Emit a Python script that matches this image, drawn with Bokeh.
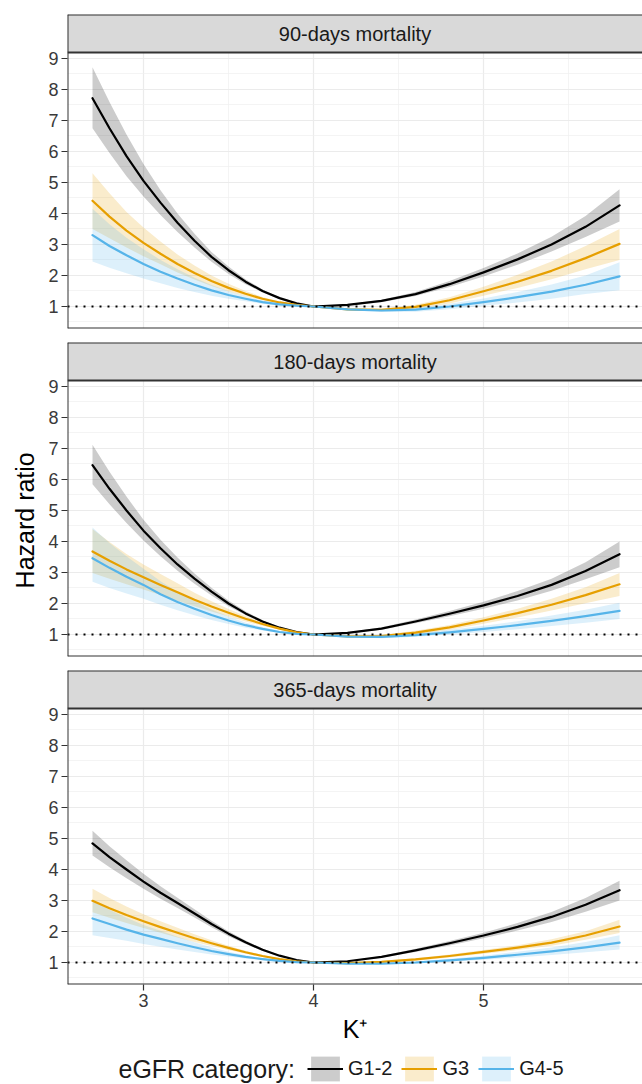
from bokeh.plotting import figure
from bokeh.layouts import column
from bokeh.models import (FixedTicker, Span, Label, Legend, LegendItem, BoxAnnotation,
                          ColumnDataSource, Range1d)
from bokeh.embed import file_html
from bokeh.resources import INLINE

# ---------------- data ----------------
K = [2.7, 2.8, 2.9, 3.0, 3.1, 3.2, 3.3, 3.4, 3.5, 3.6, 3.7, 3.8, 3.9, 4.0,
     4.2, 4.4, 4.6, 4.8, 5.0, 5.2, 5.4, 5.6, 5.8]

panel_titles = ["90-days mortality", "180-days mortality", "365-days mortality"]
groups = ["G1-2", "G3", "G4-5"]
line_colors = ["#000000", "#E69F00", "#56B4E9"]

# 90 days
hr90_g12 = [7.72, 6.75, 5.85, 5.05, 4.35, 3.70, 3.12, 2.60, 2.17, 1.80, 1.50, 1.27, 1.10, 1.00, 1.05, 1.18, 1.40, 1.72, 2.10, 2.52, 3.00, 3.57, 4.26]
lo90_g12 = [6.75, 5.95, 5.20, 4.55, 3.95, 3.40, 2.90, 2.44, 2.05, 1.72, 1.45, 1.24, 1.09, 1.00, 1.03, 1.14, 1.34, 1.63, 1.97, 2.35, 2.77, 3.24, 3.74]
hi90_g12 = [8.72, 7.60, 6.55, 5.60, 4.75, 4.00, 3.35, 2.76, 2.29, 1.88, 1.55, 1.30, 1.11, 1.00, 1.07, 1.22, 1.47, 1.82, 2.24, 2.71, 3.25, 3.92, 4.78]
hr90_g3 = [4.41, 3.90, 3.45, 3.05, 2.70, 2.37, 2.08, 1.82, 1.60, 1.41, 1.25, 1.13, 1.05, 1.00, 0.91, 0.89, 0.99, 1.20, 1.49, 1.80, 2.15, 2.56, 3.02]
lo90_g3 = [3.50, 3.20, 2.90, 2.62, 2.36, 2.10, 1.87, 1.66, 1.48, 1.33, 1.20, 1.10, 1.04, 1.00, 0.89, 0.85, 0.93, 1.10, 1.35, 1.60, 1.88, 2.20, 2.50]
hi90_g3 = [5.30, 4.65, 4.05, 3.55, 3.10, 2.68, 2.32, 2.00, 1.73, 1.50, 1.31, 1.16, 1.06, 1.00, 0.93, 0.93, 1.06, 1.30, 1.64, 2.02, 2.45, 2.95, 3.50]
hr90_g45 = [3.30, 2.95, 2.65, 2.37, 2.12, 1.90, 1.70, 1.52, 1.37, 1.25, 1.14, 1.07, 1.03, 1.00, 0.91, 0.87, 0.90, 1.00, 1.14, 1.30, 1.48, 1.70, 1.97]
lo90_g45 = [2.45, 2.25, 2.07, 1.90, 1.75, 1.60, 1.47, 1.35, 1.25, 1.17, 1.09, 1.04, 1.01, 1.00, 0.88, 0.82, 0.83, 0.91, 1.02, 1.13, 1.25, 1.40, 1.52]
hi90_g45 = [4.15, 3.65, 3.22, 2.85, 2.50, 2.20, 1.93, 1.69, 1.49, 1.33, 1.19, 1.10, 1.05, 1.00, 0.94, 0.91, 0.96, 1.09, 1.26, 1.47, 1.71, 2.00, 2.43]

# 180 days
hr180_g12 = [6.46, 5.70, 5.00, 4.35, 3.78, 3.26, 2.80, 2.38, 2.00, 1.68, 1.42, 1.22, 1.08, 1.00, 1.05, 1.19, 1.42, 1.67, 1.94, 2.24, 2.60, 3.05, 3.59]
lo180_g12 = [5.85, 5.20, 4.60, 4.03, 3.52, 3.06, 2.64, 2.26, 1.91, 1.62, 1.38, 1.20, 1.07, 1.00, 1.03, 1.15, 1.36, 1.59, 1.83, 2.10, 2.41, 2.78, 3.17]
hi180_g12 = [7.12, 6.25, 5.45, 4.70, 4.06, 3.48, 2.97, 2.51, 2.10, 1.75, 1.46, 1.24, 1.09, 1.00, 1.07, 1.23, 1.48, 1.76, 2.06, 2.40, 2.80, 3.33, 4.00]
hr180_g3 = [3.68, 3.38, 3.10, 2.85, 2.60, 2.36, 2.12, 1.90, 1.70, 1.51, 1.34, 1.19, 1.07, 1.00, 0.94, 0.95, 1.06, 1.23, 1.45, 1.69, 1.96, 2.27, 2.62]
lo180_g3 = [2.98, 2.80, 2.62, 2.45, 2.27, 2.09, 1.91, 1.74, 1.58, 1.42, 1.28, 1.16, 1.06, 1.00, 0.92, 0.91, 1.00, 1.15, 1.35, 1.55, 1.77, 2.01, 2.24]
hi180_g3 = [4.40, 3.98, 3.60, 3.26, 2.95, 2.65, 2.35, 2.07, 1.82, 1.60, 1.40, 1.22, 1.08, 1.00, 0.96, 0.99, 1.12, 1.31, 1.56, 1.83, 2.15, 2.52, 2.98]
hr180_g45 = [3.46, 3.15, 2.86, 2.60, 2.30, 2.05, 1.83, 1.63, 1.45, 1.30, 1.18, 1.08, 1.02, 1.00, 0.93, 0.92, 0.98, 1.07, 1.18, 1.30, 1.44, 1.59, 1.76]
lo180_g45 = [2.70, 2.50, 2.32, 2.15, 1.96, 1.78, 1.62, 1.47, 1.34, 1.22, 1.13, 1.05, 1.01, 1.00, 0.91, 0.88, 0.93, 1.00, 1.08, 1.17, 1.27, 1.38, 1.50]
hi180_g45 = [4.45, 3.95, 3.52, 3.12, 2.72, 2.38, 2.08, 1.81, 1.58, 1.39, 1.24, 1.11, 1.03, 1.00, 0.95, 0.96, 1.04, 1.15, 1.28, 1.43, 1.61, 1.80, 2.02]

# 365 days
hr365_g12 = [4.84, 4.40, 4.00, 3.61, 3.25, 2.92, 2.58, 2.24, 1.93, 1.65, 1.41, 1.22, 1.08, 1.00, 1.04, 1.18, 1.39, 1.62, 1.87, 2.15, 2.47, 2.86, 3.33]
lo365_g12 = [4.45, 4.07, 3.72, 3.38, 3.06, 2.76, 2.45, 2.14, 1.85, 1.60, 1.37, 1.20, 1.07, 1.00, 1.03, 1.15, 1.34, 1.55, 1.78, 2.03, 2.31, 2.64, 3.00]
hi365_g12 = [5.25, 4.75, 4.30, 3.86, 3.46, 3.09, 2.72, 2.35, 2.01, 1.71, 1.45, 1.24, 1.09, 1.00, 1.05, 1.21, 1.44, 1.69, 1.96, 2.27, 2.63, 3.08, 3.64]
hr365_g3 = [2.99, 2.75, 2.53, 2.33, 2.14, 1.96, 1.78, 1.62, 1.47, 1.33, 1.21, 1.11, 1.04, 1.00, 0.98, 1.02, 1.10, 1.21, 1.34, 1.48, 1.64, 1.87, 2.16]
lo365_g3 = [2.62, 2.44, 2.27, 2.11, 1.96, 1.81, 1.66, 1.53, 1.40, 1.28, 1.18, 1.09, 1.03, 1.00, 0.97, 0.99, 1.06, 1.16, 1.28, 1.40, 1.54, 1.73, 1.95]
hi365_g3 = [3.38, 3.08, 2.81, 2.56, 2.33, 2.12, 1.91, 1.72, 1.54, 1.38, 1.24, 1.13, 1.05, 1.00, 0.99, 1.05, 1.14, 1.26, 1.40, 1.56, 1.75, 2.01, 2.38]
hr365_g45 = [2.42, 2.24, 2.06, 1.90, 1.76, 1.62, 1.49, 1.37, 1.27, 1.18, 1.11, 1.05, 1.01, 1.00, 0.96, 0.96, 1.00, 1.07, 1.15, 1.25, 1.36, 1.49, 1.64]
lo365_g45 = [1.88, 1.79, 1.70, 1.60, 1.51, 1.42, 1.34, 1.26, 1.19, 1.13, 1.08, 1.03, 1.00, 1.00, 0.95, 0.94, 0.97, 1.02, 1.09, 1.16, 1.24, 1.33, 1.42]
hi365_g45 = [2.98, 2.70, 2.44, 2.21, 2.02, 1.83, 1.65, 1.49, 1.35, 1.23, 1.14, 1.07, 1.02, 1.00, 0.97, 0.98, 1.03, 1.12, 1.22, 1.35, 1.48, 1.66, 1.88]

y_ticks = [1, 2, 3, 4, 5, 6, 7, 8, 9]
x_ticks = [3, 4, 5]

panels = [
    [(hr90_g12, lo90_g12, hi90_g12), (hr90_g3, lo90_g3, hi90_g3), (hr90_g45, lo90_g45, hi90_g45)],
    [(hr180_g12, lo180_g12, hi180_g12), (hr180_g3, lo180_g3, hi180_g3), (hr180_g45, lo180_g45, hi180_g45)],
    [(hr365_g12, lo365_g12, hi365_g12), (hr365_g3, lo365_g3, hi365_g3), (hr365_g45, lo365_g45, hi365_g45)],
]

# ---------------- styling / layout ----------------
FONT = "Liberation Sans"
W = 642
LEFT = 67
PANEL_H = 276          # data area height (px)
STRIP_H = 38           # facet strip height (px)
PX_PER_UNIT = 31.0
X0, X1 = 2.553, 5.935
Y0 = 0.29
Y_TOP = Y0 + PANEL_H / PX_PER_UNIT              # top of data area (strip bottom)
Y_END = Y0 + (PANEL_H + STRIP_H) / PX_PER_UNIT  # top of strip
BORDER = "#333333"
TXT = "#1A1A1A"
TICK_TXT = "#3A3A3A"
# the axis title is centred on data area + strip; trailing no-break spaces move it
# down so that it is centred on the data area, as in the reference
Y_TITLE_PAD = "\u00a0" * 6


def panel_fig(title, series, top, bottom, xaxis, ylabel):
    p = figure(width=W, height=PANEL_H + STRIP_H + top + bottom,
               x_range=Range1d(X0, X1), y_range=Range1d(Y0, Y_END),
               output_backend="svg", toolbar_location=None,
               x_axis_location="below" if xaxis else None,
               min_border_left=LEFT, min_border_right=0, min_border_top=top, min_border_bottom=bottom)
    p.background_fill_color = "white"
    p.outline_line_color = None   # panel is open at the right edge (cut off)

    p.xgrid.ticker = FixedTicker(ticks=x_ticks, minor_ticks=[2.5, 3.5, 4.5, 5.5])
    p.ygrid.ticker = FixedTicker(ticks=y_ticks, minor_ticks=[0.5, 1.5, 2.5, 3.5, 4.5, 5.5, 6.5, 7.5, 8.5])
    for g in (p.xgrid, p.ygrid):
        g.grid_line_color = "#EBEBEB"
        g.grid_line_width = 1.2
        g.minor_grid_line_color = "#EFEFEF"
        g.minor_grid_line_width = 0.7

    axes = [p.yaxis[0]] + ([p.xaxis[0]] if xaxis else [])
    for ax in axes:
        ax.axis_line_color = None
        ax.major_tick_line_color = BORDER
        ax.major_tick_line_width = 1.2
        ax.major_tick_out = 6
        ax.major_tick_in = 0
        ax.minor_tick_out = 0
        ax.minor_tick_in = 0
        ax.major_label_text_font = FONT
        ax.major_label_text_font_size = "18px"
        ax.major_label_text_color = TICK_TXT
        ax.axis_label_text_font = FONT
        ax.axis_label_text_font_style = "normal"
        ax.axis_label_text_font_size = "25px"
        ax.axis_label_text_color = "#000000"
    p.yaxis.ticker = FixedTicker(ticks=y_ticks)
    p.yaxis.major_label_standoff = 3
    if ylabel:
        p.yaxis.axis_label = ylabel + Y_TITLE_PAD
        p.yaxis.axis_label_standoff = 6
    if xaxis:
        p.xaxis.ticker = FixedTicker(ticks=x_ticks)
        p.xaxis.major_label_standoff = 3
        p.xaxis.axis_label = "K\u207a"
        p.xaxis.axis_label_standoff = 5

    for (hr, lo, hi), col in zip(series, line_colors):
        src = ColumnDataSource(dict(k=K, lo=lo, hi=hi))
        p.varea(x="k", y1="lo", y2="hi", source=src, fill_color=col, fill_alpha=0.2)
    for (hr, lo, hi), col in zip(series, line_colors):
        src = ColumnDataSource(dict(k=K, hr=hr))
        p.line(x="k", y="hr", source=src, line_color=col, line_width=2.2,
               line_join="round", line_cap="round")

    p.add_layout(Span(location=1, dimension="width", line_color="black",
                      line_width=2, line_dash="2 6"))
    # facet strip on top of the data area
    p.add_layout(BoxAnnotation(bottom=Y_TOP, fill_color="#D9D9D9", fill_alpha=1.0,
                               line_color=None))
    p.add_layout(Label(x=(X0 + X1) / 2, y=(Y_TOP + Y_END) / 2, text=title,
                       text_align="center", text_baseline="middle",
                       text_font=FONT, text_font_size="20px", text_color=TXT))
    # panel / strip borders: left, bottom, strip bottom, strip top (right side is cut off)
    for loc, dim in ((X0, "height"), (Y0, "width"), (Y_TOP, "width"), (Y_END, "width")):
        p.add_layout(Span(location=loc, dimension=dim, line_color=BORDER, line_width=2))
    return p


figs = []
for i, (title, series) in enumerate(zip(panel_titles, panels)):
    figs.append(panel_fig(title, series,
                          top=14 if i == 0 else 0,
                          bottom=62 if i == 2 else 14,
                          xaxis=(i == 2),
                          ylabel="Hazard ratio" if i == 1 else None))

# ---------------- legend row ----------------
lg = figure(width=W, height=38, x_range=Range1d(LEFT, W), y_range=Range1d(0, 1),
            output_backend="svg", toolbar_location=None,
            x_axis_location=None, y_axis_location=None,
            min_border_left=LEFT, min_border_right=0, min_border_top=0, min_border_bottom=0)
lg.grid.visible = False
lg.outline_line_color = None
lg.add_layout(Label(x=118, y=0.40, text="eGFR category:", text_align="left",
                    text_baseline="middle", text_font=FONT, text_font_size="25px",
                    text_color=TXT))
items = []
for g, col in zip(groups, line_colors):
    # off-canvas key samples: only their legend swatches are shown
    src = ColumnDataSource(dict(x=[-30.0, -20.0], y1=[-3.0, -3.0], y2=[-2.0, -2.0]))
    rb = lg.varea(x="x", y1="y1", y2="y2", source=src, fill_color=col, fill_alpha=0.2)
    rl = lg.line(x="x", y="y1", source=src, line_color=col, line_width=2.2)
    items.append(LegendItem(label=g, renderers=[rb, rl]))
legend = Legend(items=items, location=(307 - LEFT, 0), orientation="horizontal",
                glyph_width=36, glyph_height=31, label_standoff=5, spacing=9,
                padding=0, margin=0, border_line_color=None, background_fill_alpha=0,
                label_text_font=FONT, label_text_font_size="20px", label_text_color=TXT)
lg.add_layout(legend)
figs.append(lg)

layout = column(*figs, spacing=0)
open("out.html", "w").write(file_html(layout, INLINE))
